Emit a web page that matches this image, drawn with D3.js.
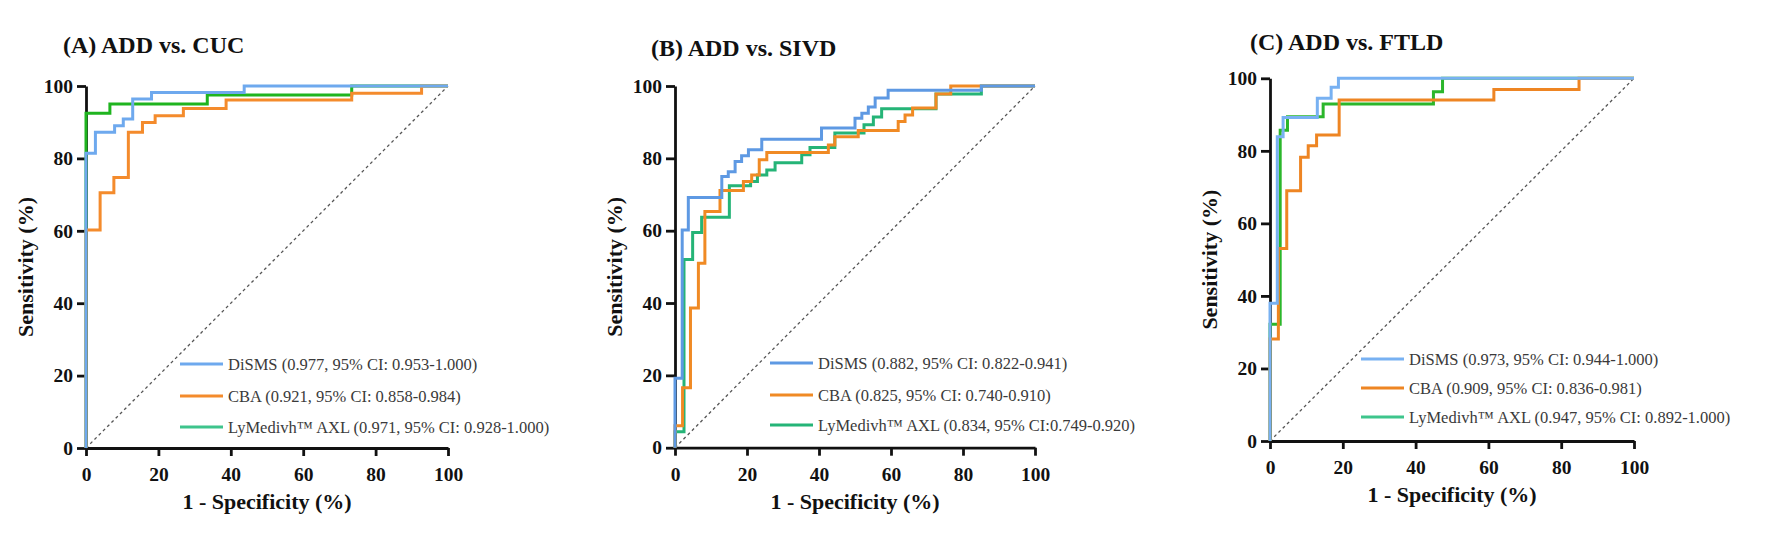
<!DOCTYPE html>
<html>
<head>
<script src="https://d3js.org/d3.v7.min.js"></script>
<style>
    body { margin: 0; background: #fff; }
    svg text { font-family: "Liberation Serif", "Times New Roman", serif; }
</style>
</head>
<body>
<div id="chart"></div>
<script>
// ---- data (percent) ----
const panelTitles = ["(A) ADD vs. CUC", "(B) ADD vs. SIVD", "(C) ADD vs. FTLD"];
const seriesNames = ["DiSMS", "CBA", "LyMedivh\u2122 AXL"];
const xTicks = [0, 20, 40, 60, 80, 100];
const yTicks = [0, 20, 40, 60, 80, 100];

const legendA = ["DiSMS (0.977, 95% CI: 0.953-1.000)", "CBA (0.921, 95% CI: 0.858-0.984)", "LyMedivh\u2122 AXL (0.971, 95% CI: 0.928-1.000)"];
const legendB = ["DiSMS (0.882, 95% CI: 0.822-0.941)", "CBA (0.825, 95% CI: 0.740-0.910)", "LyMedivh\u2122 AXL (0.834, 95% CI:0.749-0.920)"];
const legendC = ["DiSMS (0.973, 95% CI: 0.944-1.000)", "CBA (0.909, 95% CI: 0.836-0.981)", "LyMedivh\u2122 AXL (0.947, 95% CI: 0.892-1.000)"];

// [1 - specificity, sensitivity]
const rocA_DiSMS = [[0,0],[0,81.4],[2.6,87.2],[7.9,89],[10.3,90.9],[12.9,96.4],[18.1,98.2],[43.7,100],[100,100]];
const rocA_CBA   = [[0,0],[0,60.2],[3.9,70.5],[7.7,74.7],[11.7,87.2],[15.6,89.9],[19.1,91.8],[26.9,93.8],[38.7,96.1],[73.4,98],[92.7,100],[100,100]];
const rocA_AXL   = [[0,0],[0,92.5],[6.6,95],[33.5,97.5],[73.4,100],[100,100]];

const rocB_DiSMS = [[0,0],[0,19.2],[2,60.2],[3.7,69.2],[13,75],[14.8,76.3],[16.7,79.1],[18.5,80.7],[20.4,82.4],[24.1,85.3],[40.7,88.4],[50,91.1],[51.9,92.5],[53.7,94.2],[55.6,96.7],[59.2,98.8],[85.1,100],[100,100]];
const rocB_CBA   = [[0,0],[0,6.1],[2.1,16.6],[4.3,38.6],[6.5,51],[8.3,65.3],[12.5,71.1],[19,73.6],[21.3,75.4],[23.4,79.6],[25.5,81.6],[42.6,83.7],[44.4,86],[50.9,87.7],[62,90.2],[63.9,92],[66,93.9],[72.5,97.8],[76.6,100],[100,100]];
const rocB_AXL   = [[0,0],[0,4.4],[2.5,52],[4.9,59.5],[7.4,63.7],[15.1,72.4],[21,73.6],[22.9,75.4],[25.5,76.8],[27.8,78.8],[35.2,81],[37.5,83],[44.4,87],[52.5,89.3],[55.1,91.4],[57.4,93.7],[72.5,97.8],[85.1,100],[100,100]];

const rocC_DiSMS = [[0,0],[0,38],[2,83.9],[3.6,89.2],[13,94.5],[16.8,97.5],[18.8,100],[100,100]];
const rocC_CBA   = [[0,0],[0,28.1],[2.3,53.1],[4.6,69],[8.4,78.2],[10.5,81.4],[12.8,84.4],[19,94],[61.5,96.9],[84.9,100],[100,100]];
const rocC_AXL   = [[0,0],[0,32.2],[2.8,85.7],[4.8,89.4],[14.6,92.9],[44.9,96.3],[47.4,100],[100,100]];

// ---- layout / style ----
const panels = [
    { title: panelTitles[0], legend: legendA, curves: [rocA_DiSMS, rocA_CBA, rocA_AXL],
      x0: 86, x1: 448, yTop: 86, yBot: 448, titleX: 63, titleY: 53, legX: 180, legY: [364, 396, 427],
      colors: ["#6ea9ee", "#f48b2c", "#1fb41f"], legColors: ["#6ea9ee", "#f48b2c", "#3ec48c"] },
    { title: panelTitles[1], legend: legendB, curves: [rocB_DiSMS, rocB_CBA, rocB_AXL],
      x0: 675, x1: 1035, yTop: 86, yBot: 447.7, titleX: 651, titleY: 56, legX: 770, legY: [363, 395, 425],
      colors: ["#5e99e3", "#f08a24", "#25b477"], legColors: ["#5e99e3", "#f08a24", "#25b477"] },
    { title: panelTitles[2], legend: legendC, curves: [rocC_DiSMS, rocC_CBA, rocC_AXL],
      x0: 1270, x1: 1634, yTop: 78.3, yBot: 441, titleX: 1250, titleY: 50, legX: 1361, legY: [359, 388, 417],
      colors: ["#78b1f2", "#ee8523", "#2bb62b"], legColors: ["#78b1f2", "#ee8523", "#3ec58c"] }
];

const serif = "'Liberation Serif', 'Times New Roman', serif";

const svg = d3.select("#chart")
    .append("svg")
    .attr("width", 1770)
    .attr("height", 534)
    .attr("font-family", serif)
    .style("background", "#fff");

panels.forEach(p => {
    const x = d3.scaleLinear().domain([0, 100]).range([p.x0, p.x1]);
    const y = d3.scaleLinear().domain([0, 100]).range([p.yBot, p.yTop]);
    const g = svg.append("g");

    // title
    g.append("text")
        .attr("x", p.titleX)
        .attr("y", p.titleY)
        .attr("font-size", 24)
        .attr("font-weight", "bold")
        .attr("fill", "#111")
        .text(p.title);

    // axes
    const yAxis = g.append("g")
        .attr("transform", `translate(${p.x0},0)`)
        .call(d3.axisLeft(y).tickValues(yTicks).tickSize(9).tickSizeOuter(0).tickPadding(4));
    const xAxis = g.append("g")
        .attr("transform", `translate(0,${p.yBot})`)
        .call(d3.axisBottom(x).tickValues(xTicks).tickSize(8).tickSizeOuter(0).tickPadding(11));
    [xAxis, yAxis].forEach(a => {
        a.attr("font-family", serif);
        a.select(".domain").attr("stroke", "#111").attr("stroke-width", 2.8);
        a.selectAll(".tick line").attr("stroke", "#111").attr("stroke-width", 2.8);
        a.selectAll(".tick text")
            .attr("font-size", 19.5)
            .attr("font-weight", "bold")
            .attr("fill", "#111");
    });

    // axis titles
    g.append("text")
        .attr("x", (p.x0 + p.x1) / 2)
        .attr("y", p.yBot + 61)
        .attr("text-anchor", "middle")
        .attr("font-size", 22)
        .attr("font-weight", "bold")
        .attr("fill", "#111")
        .text("1 - Specificity (%)");
    g.append("text")
        .attr("transform", `translate(${p.x0 - 53},${(p.yTop + p.yBot) / 2}) rotate(-90)`)
        .attr("text-anchor", "middle")
        .attr("font-size", 22)
        .attr("font-weight", "bold")
        .attr("fill", "#111")
        .text("Sensitivity (%)");

    // reference diagonal
    g.append("line")
        .attr("x1", x(0)).attr("y1", y(0))
        .attr("x2", x(100)).attr("y2", y(100))
        .attr("stroke", "#555")
        .attr("stroke-width", 1.3)
        .attr("stroke-dasharray", "3,3");

    // curves: AXL first, then CBA, DiSMS on top
    const line = d3.line()
        .x(d => x(d[0]))
        .y(d => y(d[1]))
        .curve(d3.curveStepAfter);
    [2, 1, 0].forEach(i => {
        g.append("path")
            .datum(p.curves[i])
            .attr("fill", "none")
            .attr("stroke", p.colors[i])
            .attr("stroke-width", 3)
            .attr("d", line);
    });

    // legend
    p.legend.forEach((label, i) => {
        g.append("line")
            .attr("x1", p.legX).attr("x2", p.legX + 43)
            .attr("y1", p.legY[i]).attr("y2", p.legY[i])
            .attr("stroke", p.legColors[i])
            .attr("stroke-width", 3);
        g.append("text")
            .attr("x", p.legX + 48)
            .attr("y", p.legY[i])
            .attr("dy", "0.35em")
            .attr("font-size", 16.5)
            .attr("fill", "#3a3a3a")
            .text(label);
    });
});
</script>
</body>
</html>
